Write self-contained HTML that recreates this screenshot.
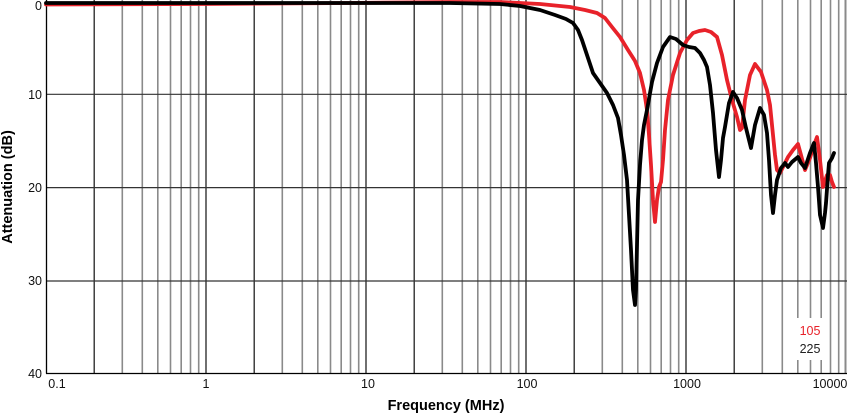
<!DOCTYPE html>
<html><head><meta charset="utf-8"><style>
html,body{margin:0;padding:0;background:#fff;}
svg{display:block;font-family:"Liberation Sans",Arial,sans-serif;}
</style></head><body>
<svg width="847" height="414" viewBox="0 0 847 414" xmlns="http://www.w3.org/2000/svg">
<g stroke="#8a8a8a" stroke-width="1.6">
<line x1="122.3" y1="0" x2="122.3" y2="373"/><line x1="142.3" y1="0" x2="142.3" y2="373"/><line x1="157.8" y1="0" x2="157.8" y2="373"/><line x1="170.5" y1="0" x2="170.5" y2="373"/><line x1="181.2" y1="0" x2="181.2" y2="373"/><line x1="190.5" y1="0" x2="190.5" y2="373"/><line x1="198.7" y1="0" x2="198.7" y2="373"/>
<line x1="282.3" y1="0" x2="282.3" y2="373"/><line x1="302.3" y1="0" x2="302.3" y2="373"/><line x1="317.8" y1="0" x2="317.8" y2="373"/><line x1="330.5" y1="0" x2="330.5" y2="373"/><line x1="341.2" y1="0" x2="341.2" y2="373"/><line x1="350.5" y1="0" x2="350.5" y2="373"/><line x1="358.7" y1="0" x2="358.7" y2="373"/>
<line x1="442.3" y1="0" x2="442.3" y2="373"/><line x1="462.3" y1="0" x2="462.3" y2="373"/><line x1="477.8" y1="0" x2="477.8" y2="373"/><line x1="490.5" y1="0" x2="490.5" y2="373"/><line x1="501.2" y1="0" x2="501.2" y2="373"/><line x1="510.5" y1="0" x2="510.5" y2="373"/><line x1="518.7" y1="0" x2="518.7" y2="373"/>
<line x1="602.3" y1="0" x2="602.3" y2="373"/><line x1="622.3" y1="0" x2="622.3" y2="373"/><line x1="637.8" y1="0" x2="637.8" y2="373"/><line x1="650.5" y1="0" x2="650.5" y2="373"/><line x1="661.2" y1="0" x2="661.2" y2="373"/><line x1="670.5" y1="0" x2="670.5" y2="373"/><line x1="678.7" y1="0" x2="678.7" y2="373"/>
<line x1="762.3" y1="0" x2="762.3" y2="373"/><line x1="782.3" y1="0" x2="782.3" y2="373"/><line x1="797.8" y1="0" x2="797.8" y2="318"/><line x1="797.8" y1="360" x2="797.8" y2="373"/><line x1="810.5" y1="0" x2="810.5" y2="318"/><line x1="810.5" y1="360" x2="810.5" y2="373"/><line x1="821.2" y1="0" x2="821.2" y2="318"/><line x1="821.2" y1="360" x2="821.2" y2="373"/><line x1="830.5" y1="0" x2="830.5" y2="373"/><line x1="838.7" y1="0" x2="838.7" y2="373"/>
<line x1="845.5" y1="0" x2="845.5" y2="373" stroke-width="2"/>
</g>
<g stroke="#222" stroke-width="1.3">
<line x1="94.2" y1="0" x2="94.2" y2="373"/><line x1="206" y1="0" x2="206" y2="373"/><line x1="254.2" y1="0" x2="254.2" y2="373"/>
<line x1="366" y1="0" x2="366" y2="373"/><line x1="414.2" y1="0" x2="414.2" y2="373"/><line x1="526" y1="0" x2="526" y2="373"/>
<line x1="574.2" y1="0" x2="574.2" y2="373"/><line x1="686" y1="0" x2="686" y2="373"/><line x1="734.2" y1="0" x2="734.2" y2="373"/>
</g>
<g stroke="#333" stroke-width="1.2">
<line x1="46" y1="94.3" x2="847" y2="94.3"/>
<line x1="46" y1="187.6" x2="847" y2="187.6"/>
<line x1="46" y1="281" x2="847" y2="281"/>
</g>
<line x1="46.5" y1="0" x2="46.5" y2="373.5" stroke="#000" stroke-width="1.3"/>
<line x1="46" y1="373.5" x2="847" y2="373.5" stroke="#000" stroke-width="1.3"/>
<polyline fill="none" stroke="#e8222a" stroke-width="3.8" stroke-linejoin="round" stroke-linecap="round" points="46,4.5 200,4 350,3 450,2 500,2 540,4 570,7 585,10 597,13 605,18 612,27 620,37 628,50 635,61 640,73 644,90 647,110 649,135 651,165 653,200 655,222 657,200 659,187 661,182 663,160 665,130 668,100 673,75 680,53 687,40 693,33 699,31 705,30 711,32 717,37 722,55 727,80 732,100 737,117 740,130 742,128 745,100 750,75 755,64 761,72 767,90 770,105 772,125 775,155 777,170 780,173 784,165 788,157 793,150 798,144 801,155 805,170 810,158 814,145 817,137 820,160 823,187 827,175 830,175 832,182 834,187"/>
<polyline fill="none" stroke="#000" stroke-width="3.8" stroke-linejoin="round" stroke-linecap="round" points="46,3 200,3 350,3 450,3 500,4 520,6 540,10 555,15 566,19 573,23 578,30 582,40 587,55 593,73 600,83 607,93 613,105 618,118 621,135 624,155 627,180 629,215 631,250 633,290 635,305 636,290 637,245 638,200 640,165 642,140 644,125 647,110 652,82 657,63 663,47 670,37 676,39 683,45 689,47 695,48 700,53 704,60 707,67 710,85 713,113 716,150 719,177 721,160 723,138 725,127 729,103 733,92 737,98 742,110 746,128 751,148 755,125 760,108 764,115 767,133 769,160 771,195 773,213 775,195 777,180 781,168 785,163 788,167 792,162 798,157 801,163 805,168 810,153 814,143 816,163 818,187 820,215 823,228 825,213 826,203 828,175 829,163 832,158 834,153"/>
<g font-size="12.5" fill="#111" text-anchor="end">
<text x="42" y="10">0</text>
<text x="42" y="99">10</text>
<text x="42" y="192">20</text>
<text x="42" y="285">30</text>
<text x="42" y="378">40</text>
</g>
<g font-size="12.5" fill="#111" text-anchor="middle">
<text x="57" y="388">0.1</text>
<text x="206" y="388">1</text>
<text x="368" y="388">10</text>
<text x="527" y="388">100</text>
<text x="687" y="388">1000</text>
<text x="830" y="388">10000</text>
</g>
<text x="446" y="410" font-size="14.5" font-weight="bold" text-anchor="middle">Frequency (MHz)</text>
<text transform="translate(12,187) rotate(-90)" font-size="14.5" font-weight="bold" text-anchor="middle">Attenuation (dB)</text>
<text x="810" y="335" font-size="12.5" fill="#e8222a" text-anchor="middle">105</text>
<text x="810" y="353" font-size="12.5" fill="#222" text-anchor="middle">225</text>
</svg>
</body></html>
